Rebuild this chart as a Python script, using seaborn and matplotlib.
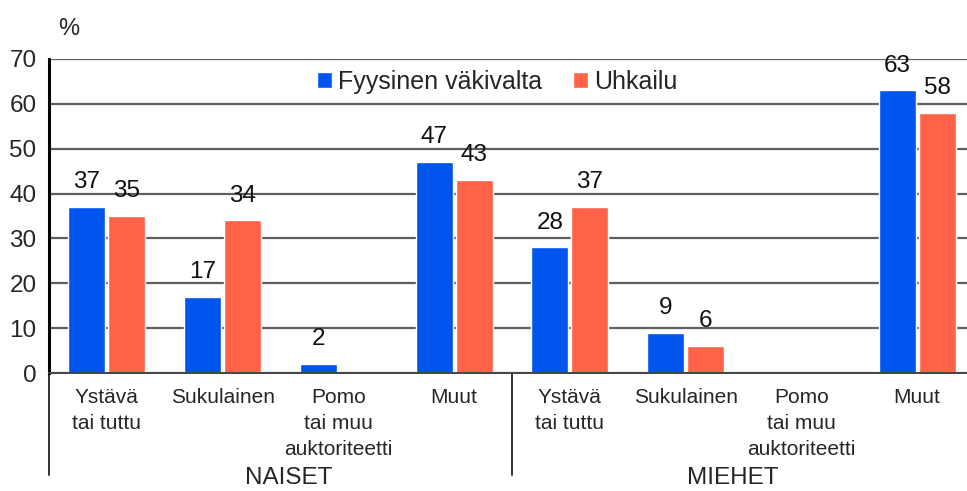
import matplotlib
matplotlib.use("Agg")
import matplotlib.pyplot as plt
import numpy as np
import pandas as pd
import seaborn as sns
from matplotlib.patches import Patch

# ── Data ─────────────────────────────────────────────────────────────────────
groups = ["NAISET", "MIEHET"]
categories = ["Ystävä\ntai tuttu", "Sukulainen", "Pomo\ntai muu\nauktoriteetti", "Muut"]
series = ["Fyysinen väkivalta", "Uhkailu"]

fyysinen_naiset = [37, 17, 2, 47]
uhkailu_naiset = [35, 34, np.nan, 43]
fyysinen_miehet = [28, 9, np.nan, 63]
uhkailu_miehet = [37, 6, np.nan, 58]

colors = {"Fyysinen väkivalta": "#0055ee", "Uhkailu": "#ff6347"}

# long-form table, one key per (group, category) so labels can repeat
rows = []
values = {
    ("NAISET", "Fyysinen väkivalta"): fyysinen_naiset,
    ("NAISET", "Uhkailu"): uhkailu_naiset,
    ("MIEHET", "Fyysinen väkivalta"): fyysinen_miehet,
    ("MIEHET", "Uhkailu"): uhkailu_miehet,
}
order = []
for g in groups:
    for c in categories:
        order.append(f"{g}|{c}")
for (g, s), vals in values.items():
    for c, v in zip(categories, vals):
        rows.append({"key": f"{g}|{c}", "series": s, "value": v})
df = pd.DataFrame(rows)

# ── Plot ─────────────────────────────────────────────────────────────────────
sns.set_style("white")
plt.rcParams["font.family"] = ["Liberation Sans", "DejaVu Sans"]

fig = plt.figure(figsize=(9.67, 4.91), dpi=100)
ax = fig.add_axes([49 / 967, 118 / 491, 926 / 967, 314 / 491])

sns.barplot(
    data=df, x="key", y="value", hue="series",
    order=order, hue_order=series, palette=colors,
    width=0.69, gap=0.07, saturation=1, legend=False, ax=ax,
)

for cont in ax.containers:
    labels = [f"{b.get_height():.0f}" if np.isfinite(b.get_height()) and b.get_height() > 0 else ""
              for b in cont]
    ax.bar_label(cont, labels=labels, padding=10, fontsize=17.5, color="#111111")

ax.set_ylim(0, 70)
ax.set_xlim(-0.5, 7.5)
ax.set_yticks(range(0, 71, 10))
ax.set_xticks(range(len(order)))
ax.set_xticklabels(categories * 2, fontsize=15, linespacing=1.45)
ax.set_xlabel("")
ax.set_ylabel("")
ax.tick_params(axis="y", labelsize=17.5, length=0, pad=9)
ax.tick_params(axis="x", length=0, pad=11)

ax.set_axisbelow(True)
ax.yaxis.grid(True, color="#5f5f5f", lw=1.6)
for side in ["top", "right"]:
    ax.spines[side].set_visible(False)
ax.spines["left"].set_color("black")
ax.spines["left"].set_linewidth(2.2)
ax.spines["bottom"].set_color("#444444")
ax.spines["bottom"].set_linewidth(1.4)

# group separators below the axis
trans = ax.get_xaxis_transform()
for xpos in [-0.5, 3.5]:
    ax.plot([xpos, xpos], [0, -0.325], transform=trans, color="#333333",
            lw=1.4, clip_on=False)

ax.text(1.57, -0.298, "NAISET", transform=trans, ha="center", va="top", fontsize=17.5)
ax.text(5.41, -0.298, "MIEHET", transform=trans, ha="center", va="top", fontsize=17.5)

fig.text(69 / 967, 1 - 29 / 491, "%", ha="center", va="center", fontsize=17)

handles = [Patch(facecolor=colors[s], label=s) for s in series]
ax.legend(handles=handles, loc="center", bbox_to_anchor=(0.484, 0.928), ncol=2,
          frameon=False, fontsize=18, handlelength=0.6, handleheight=0.6,
          handletextpad=0.25, columnspacing=1.2)

fig.savefig("out.png", dpi=100)
